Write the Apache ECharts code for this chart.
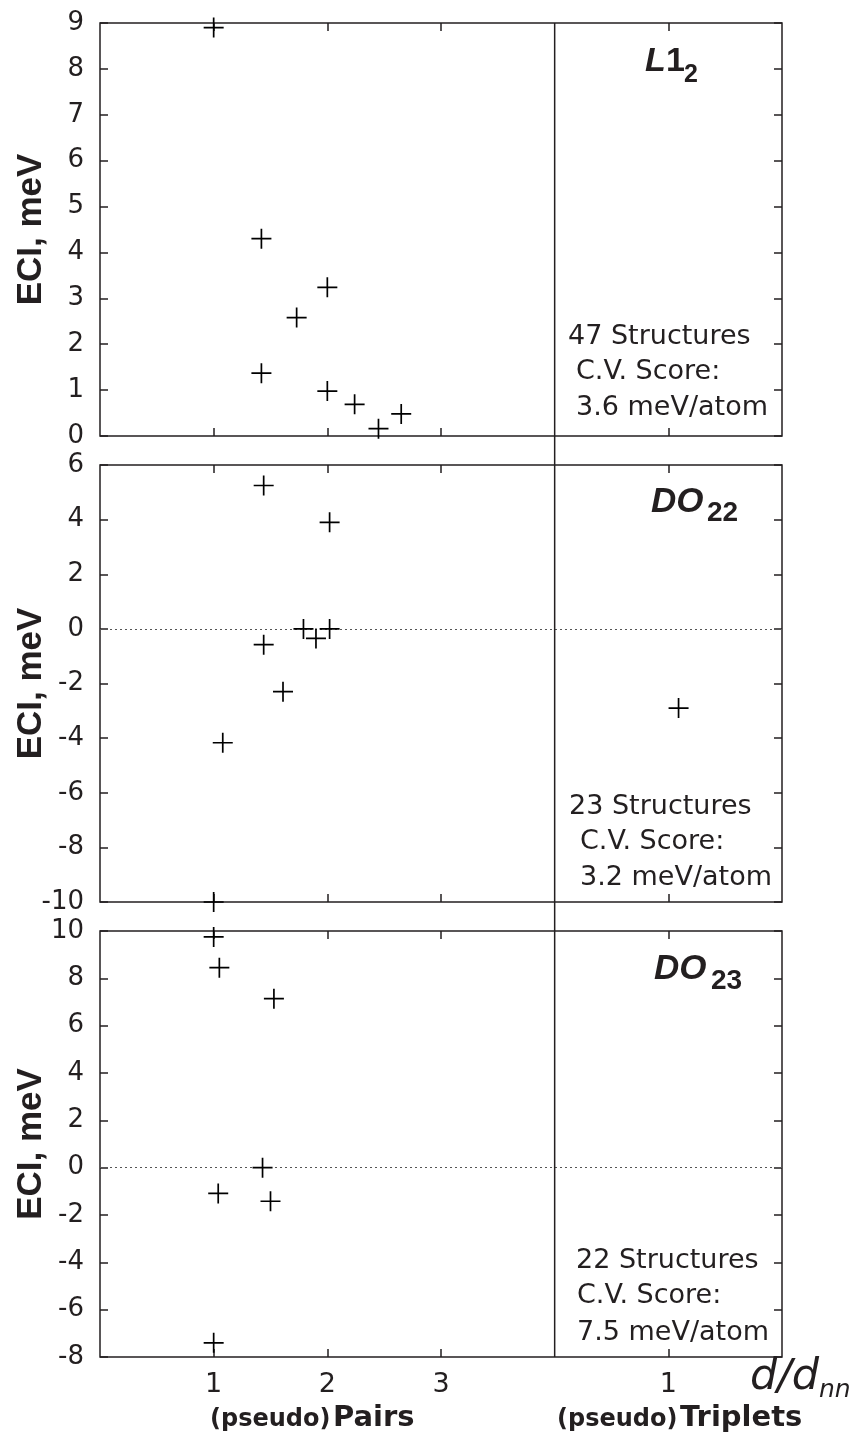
<!DOCTYPE html>
<html>
<head>
<meta charset="utf-8">
<title>ECI vs d/dnn</title>
<script src="https://cdn.jsdelivr.net/npm/echarts@6/dist/echarts.min.js"></script>
<style>
  html, body { margin: 0; padding: 0; background: #fff; }
  #chart { width: 861px; height: 1439px; }
</style>
</head>
<body>
<div id="chart"></div>
<script>
// x axis runs 0..6: pairs at 1..3, divider at 4, triplets start after it (triplet "1" sits at 5)
const xTickValues = [1, 2, 3, 5];
const xTickLabels = ['1', '2', '3', '1'];

// L1_2 panel
const l12X = [1.0, 1.42, 1.42, 1.73, 2.0, 2.0, 2.24, 2.45, 2.65];
const l12Y = [8.9, 4.3, 1.37, 2.58, 3.24, 0.98, 0.69, 0.16, 0.48];

// DO22 panel (last point is the triplet)
const do22X = [1.44, 2.02, 1.44, 1.61, 1.08, 1.0, 1.79, 1.9, 2.02, 5.09];
const do22Y = [5.25, 3.9, -0.58, -2.3, -4.17, -10.0, 0.0, -0.35, 0.0, -2.9];

// DO23 panel
const do23X = [1.0, 1.05, 1.53, 1.43, 1.04, 1.5, 1.0];
const do23Y = [9.75, 8.45, 7.14, 0.0, -1.09, -1.42, -7.4];

const panelMin = [0, -10, -8];
const panelMax = [9, 6, 10];
const panelStep = [1, 2, 2];

const ink = '#231f20';
const chart = echarts.init(document.getElementById('chart'));

const grids = [
  { left: 100, top: 23, width: 682, height: 413 },
  { left: 100, top: 465, width: 682, height: 437 },
  { left: 100, top: 931, width: 682, height: 426 }
];

function zip(xs, ys) {
  return xs.map((x, i) => [x, ys[i]]);
}
const panelData = [zip(l12X, l12Y), zip(do22X, do22Y), zip(do23X, do23Y)];

let xAxes = [], yAxes = [], series = [];
grids.forEach((g, i) => {
  g.show = true;
  g.borderColor = ink;
  g.borderWidth = 1.5;
  g.containLabel = false;
  g.outerBoundsMode = 'none';
  ['bottom', 'top'].forEach(pos => {
    xAxes.push({
      type: 'value', gridIndex: i, position: pos, min: 0, max: 6,
      axisLine: { show: false, onZero: false },
      splitLine: { show: false },
      axisTick: { show: true, inside: true, length: 8, customValues: xTickValues,
        lineStyle: { color: ink, width: 1.5 } },
      axisLabel: {
        show: i === 2 && pos === 'bottom',
        customValues: xTickValues,
        margin: 14,
        color: ink, fontFamily: 'DejaVu Sans', fontSize: 27,
        formatter: v => xTickLabels[xTickValues.indexOf(v)]
      }
    });
  });
  ['left', 'right'].forEach(pos => {
    yAxes.push({
      type: 'value', gridIndex: i, position: pos,
      min: panelMin[i], max: panelMax[i], interval: panelStep[i],
      axisLine: { show: false, onZero: false },
      splitLine: { show: false },
      axisTick: { show: true, inside: true, length: 8, lineStyle: { color: ink, width: 1.5 } },
      axisLabel: { show: pos === 'left', margin: 16, color: ink,
        fontFamily: 'DejaVu Sans', fontSize: 26 },
      name: pos === 'left' ? 'ECI, meV' : '',
      nameLocation: 'middle',
      nameGap: 51,
      nameMoveOverlap: false,
      nameTextStyle: { color: ink, fontFamily: 'Liberation Sans', fontWeight: 'bold', fontSize: 35 }
    });
  });
  const s = {
    type: 'scatter', xAxisIndex: 2 * i, yAxisIndex: 2 * i,
    data: panelData[i],
    symbol: 'path://M0,10L20,10M10,0L10,20',
    symbolSize: 20,
    itemStyle: { color: 'rgba(0,0,0,0)', borderColor: '#000', borderWidth: 1.7, opacity: 1 },
    emphasis: { disabled: true },
    z: 5
  };
  if (i > 0) {
    s.markLine = {
      silent: true, symbol: 'none', label: { show: false },
      lineStyle: { type: [2, 3], color: '#555', width: 1 },
      data: [{ yAxis: 0 }]
    };
  }
  series.push(s);
});

chart.setOption({
  animation: false,
  grid: grids,
  xAxis: xAxes,
  yAxis: yAxes,
  series: series
});

// divider between pairs and triplets, spanning all three panels
const divX = chart.convertToPixel({ xAxisIndex: 0 }, 4);
const divTop = chart.convertToPixel({ yAxisIndex: 0 }, panelMax[0]);
const divBottom = chart.convertToPixel({ yAxisIndex: 4 }, panelMin[2]);

function txt(x, y, text, size, family, weight, style) {
  return {
    type: 'text', x: x, y: y, z: 10,
    style: {
      text: text, fill: ink, fontSize: size, fontFamily: family,
      fontWeight: weight || 'normal', fontStyle: style || 'normal',
      align: 'left', verticalAlign: 'middle'
    }
  };
}
const reg = 'DejaVu Sans';
const lib = 'Liberation Sans';

chart.setOption({
  graphic: [
    { type: 'line', z: 8, shape: { x1: divX, y1: divTop, x2: divX, y2: divBottom },
      style: { stroke: ink, lineWidth: 1.5 } },
    // panel labels
    txt(645, 62, 'L', 34, lib, 'bold', 'italic'),
    txt(666, 62, '1', 34, lib, 'bold'),
    txt(684, 75, '2', 25, lib, 'bold'),
    txt(651, 502, 'DO', 35, lib, 'bold', 'italic'),
    txt(707, 513, '22', 28, lib, 'bold'),
    txt(654, 969, 'DO', 35, lib, 'bold', 'italic'),
    txt(711, 981, '23', 28, lib, 'bold'),
    // fit notes
    txt(568, 337, '47 Structures', 27, reg),
    txt(576, 372, 'C.V. Score:', 27, reg),
    txt(576, 408, '3.6 meV/atom', 27, reg),
    txt(569, 807, '23 Structures', 27, reg),
    txt(580, 842, 'C.V. Score:', 27, reg),
    txt(580, 878, '3.2 meV/atom', 27, reg),
    txt(576, 1261, '22 Structures', 27, reg),
    txt(577, 1296, 'C.V. Score:', 27, reg),
    txt(577, 1333, '7.5 meV/atom', 27, reg),
    // x axis captions
    txt(210, 1420, '(pseudo)', 24, reg, 'bold'),
    txt(333, 1418, 'Pairs', 29, reg, 'bold'),
    txt(557, 1420, '(pseudo)', 24, reg, 'bold'),
    txt(680, 1418, 'Triplets', 29, reg, 'bold'),
    txt(750, 1378, 'd/d', 43, reg, 'normal', 'italic'),
    txt(819, 1390, 'nn', 25, reg, 'normal', 'italic')
  ]
});
</script>
</body>
</html>
